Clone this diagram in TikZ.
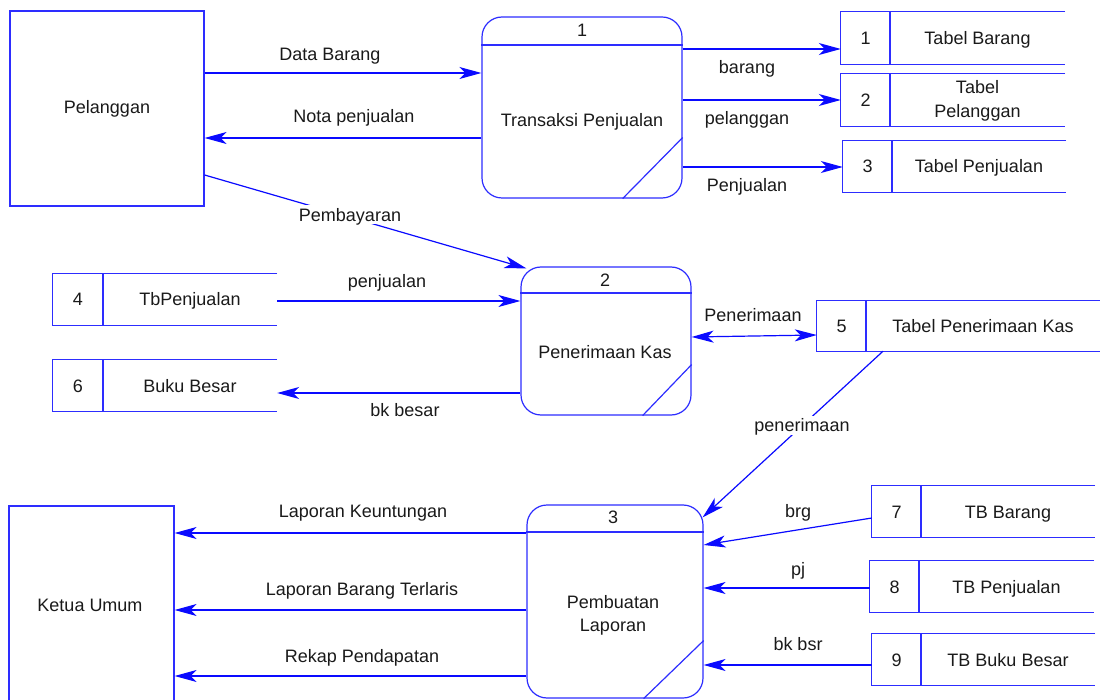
\documentclass[tikz,border=0pt]{standalone}
\usepackage{fontspec}
\setmainfont{Liberation Sans}
\usetikzlibrary{arrows.meta,calc}

\definecolor{dfdline}{RGB}{45,45,255}
\definecolor{dfdflow}{RGB}{10,10,255}
\definecolor{ink}{RGB}{26,26,26}

\tikzset{
  every node/.style={font=\fontsize{18}{22}\selectfont, text=ink},
  txt/.style={inner sep=0pt, text height=13pt, text depth=0pt},
  cut/.style={txt, fill=white, inner xsep=3pt, inner ysep=3pt},
  entity/.style={draw=dfdline, line width=1.2pt, rectangle, inner sep=0pt},
  proc/.style={draw=dfdline, line width=1.2pt, rectangle, rounded corners=20pt, inner sep=0pt},
  edge line/.style={draw=dfdline, line width=1.2pt},
  flow/.style={draw=dfdflow, line width=1.2pt, -{Stealth[length=22pt, width=12pt, inset=6pt]}},
  twoway/.style={draw=dfdflow, line width=1.2pt, {Stealth[length=22pt, width=12pt, inset=6pt]}-{Stealth[length=22pt, width=12pt, inset=6pt]}}
}

% data store: name, x1, y1, x2, y2, divider x, number, label (open on the right)
\newcommand{\dstore}[8]{%
  \node[inner sep=0pt, minimum width={#4-#2}, minimum height={#5-#3}] (#1)
    at ({(#2+#4)/2},{(#3+#5)/2}) {};
  \draw[edge line] (#1.north east) -- (#1.north west) -- (#1.south west) -- (#1.south east);
  \draw[edge line] (#6,#3) -- (#6,#5);
  \node[txt] (#1-num) at ({(#2+#6)/2},{(#3+#5)/2}) {#7};
  \node[txt] (#1-txt) at ({(#6+#4)/2},{(#3+#5)/2}) {#8};
}

\begin{document}
\begin{tikzpicture}[x=1pt, y=-1pt]
\useasboundingbox (0,0) rectangle (1100,700);
\fill[white] (0,0) rectangle (1100,700);

% external entities
\node[entity, minimum width=194pt, minimum height=195pt] (pel) at (107,108.5) {};
\node[txt] (pel-txt) at (107,107) {Pelanggan};
\node[entity, minimum width=165pt, minimum height=210pt] (ketua) at (91.5,611) {};
\node[txt] (ketua-txt) at (90,605) {Ketua Umum};

% process 1
\node[proc, minimum width=200pt, minimum height=181pt] (p1) at (582,107.5) {};
\draw[edge line] (p1.west |- 0,45) -- (p1.east |- 0,45);
\draw[edge line] ([xshift=-60pt]p1.south east) -- ([yshift=61pt]p1.south east);
\node[txt] (p1-num) at (582,30) {1};
\node[txt] (p1-txt) at (582,120) {Transaksi Penjualan};

% process 2
\node[proc, minimum width=170pt, minimum height=148pt] (p2) at (606,341) {};
\draw[edge line] (p2.west |- 0,293) -- (p2.east |- 0,293);
\draw[edge line] ([xshift=-49pt]p2.south east) -- ([yshift=51pt]p2.south east);
\node[txt] (p2-num) at (605,280) {2};
\node[txt] (p2-txt) at (605,352) {Penerimaan Kas};

% process 3
\node[proc, minimum width=176pt, minimum height=193pt] (p3) at (615,601.5) {};
\draw[edge line] (p3.west |- 0,532) -- (p3.east |- 0,532);
\draw[edge line] ([xshift=-60pt]p3.south east) -- ([yshift=58pt]p3.south east);
\node[txt] (p3-num) at (613,517) {3};
\node[txt] (p3-txt1) at (613,602) {Pembuatan};
\node[txt] (p3-txt2) at (613,625) {Laporan};

% data stores
\dstore{s1}{841}{12}{1065}{64}{890}{1}{Tabel Barang}
\dstore{s2}{841}{74}{1065}{126}{890}{2}{}
\node[txt] (s2-txt1) at (977.5,87) {Tabel};
\node[txt] (s2-txt2) at (977.5,111) {Pelanggan};
\dstore{s3}{843}{141}{1066}{192}{892}{3}{Tabel Penjualan}
\dstore{s4}{53}{274}{277}{325}{103}{4}{TbPenjualan}
\dstore{s6}{53}{360}{277}{411}{103}{6}{Buku Besar}
\dstore{s5}{817}{301}{1100}{351}{866}{5}{Tabel Penerimaan Kas}
\dstore{s7}{872}{486}{1095}{537}{921}{7}{TB Barang}
\dstore{s8}{870}{561}{1094}{612}{919}{8}{TB Penjualan}
\dstore{s9}{872}{634}{1095}{685}{921}{9}{TB Buku Besar}

% flows around process 1
\draw[flow] (pel.east |- 0,73) -- (p1.west |- 0,73);
\node[txt] (l-data) at (330,54) {Data Barang};
\draw[flow] (p1.west |- 0,138) -- (pel.east |- 0,138);
\node[txt] (l-nota) at (354,116) {Nota penjualan};
\draw[flow] (p1.east |- 0,49) -- (s1.west |- 0,49);
\node[txt] (l-barang) at (747,67) {barang};
\draw[flow] (p1.east |- 0,100) -- (s2.west |- 0,100);
\node[txt] (l-pelanggan) at (747,118) {pelanggan};
\draw[flow] (p1.east |- 0,167) -- (s3.west |- 0,167);
\node[txt] (l-penj) at (747,185) {Penjualan};

% flows around process 2
\draw[flow] (pel.east |- 0,175) -- ([shift={(6pt,-2pt)}]p2.north west);
\node[cut] (l-bayar) at (350,215) {Pembayaran};
\draw[flow] (s4.east |- 0,301) -- (p2.west |- 0,301);
\node[txt] (l-penjualan) at (387,281) {penjualan};
\draw[flow] (p2.west |- 0,393) -- (s6.east |- 0,393);
\node[txt] (l-bk) at (405,410) {bk besar};
\draw[twoway] (p2.east |- 0,337) -- (s5.west |- 0,335);
\node[txt] (l-terima) at (753,315) {Penerimaan};

% flows around process 3
\draw[flow] (s5.south -| 883,0) -- ([shift={(-1pt,-13pt)}]p3.north east);
\node[cut] (l-terima2) at (802,425) {penerimaan};
\draw[flow] (p3.west |- 0,533) -- (ketua.east |- 0,533);
\node[txt] (l-untung) at (363,511) {Laporan Keuntungan};
\draw[flow] (p3.west |- 0,610) -- (ketua.east |- 0,610);
\node[txt] (l-laris) at (362,589) {Laporan Barang Terlaris};
\draw[flow] (p3.west |- 0,676) -- (ketua.east |- 0,676);
\node[txt] (l-rekap) at (362,656) {Rekap Pendapatan};
\draw[flow] (s7.west |- 0,518) -- (p3.east |- 0,545);
\node[txt] (l-brg) at (798,511) {brg};
\draw[flow] (s8.west |- 0,588) -- (p3.east |- 0,588);
\node[txt] (l-pj) at (798,569) {pj};
\draw[flow] (s9.west |- 0,665) -- (p3.east |- 0,665);
\node[txt] (l-bkbsr) at (798,644) {bk bsr};
\end{tikzpicture}
\end{document}
